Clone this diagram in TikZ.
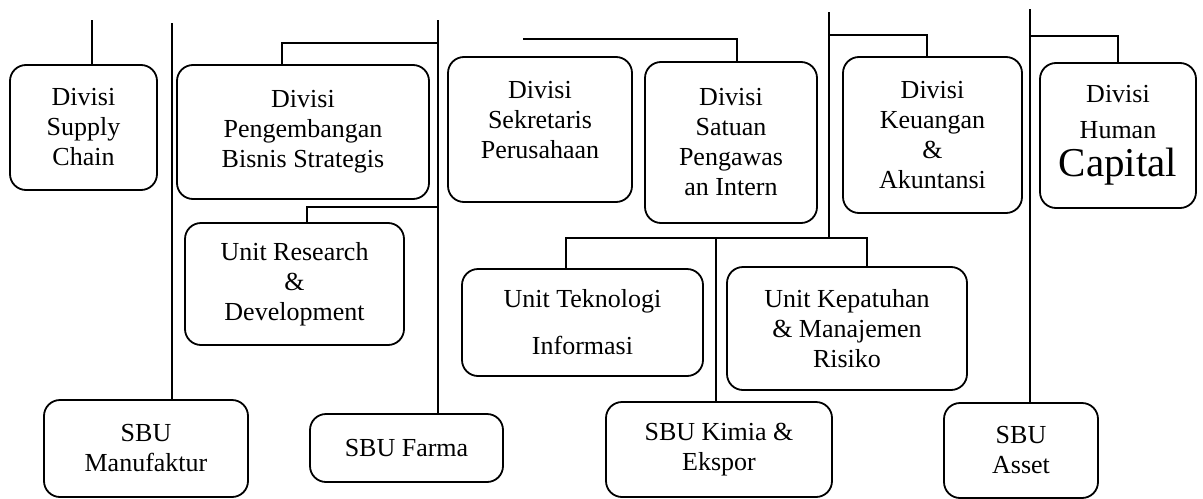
\documentclass[tikz,border=0pt]{standalone}
\usepackage{fontspec}
\setmainfont{Liberation Serif}
\tikzset{
	orgbox/.style 2 args={draw,rounded corners=8pt,line width=0.9pt,align=center,inner sep=0pt,
		font=\fontsize{13}{15}\selectfont,minimum width=#1*0.5pt,minimum height=#2*0.5pt},
	orgline/.style={line width=0.9pt}
}

\begin{document}
\begin{tikzpicture}[x=0.5pt,y=-0.5pt]
				\useasboundingbox (0,0) rectangle (1203,498);
				\node[orgbox={147}{125}] (SC) at (83.5,127.5) {Divisi\\Supply\\Chain};
				\node[orgbox={252}{134}] (PBS) at (303,132) {Divisi\\Pengembangan\\Bisnis Strategis};
				\node[orgbox={219}{122}] (RD) at (294.5,284) {Unit Research\\\&\\Development};
				\node[orgbox={204}{97}] (MF) at (146,448.5) {SBU\\Manufaktur};
				\node[orgbox={193}{68}] (FR) at (406.5,448) {SBU Farma};
				\node[orgbox={184}{145}] (SP) at (540,129.5) {Divisi\\Sekretaris\\Perusahaan\\[-5pt]};
				\node[orgbox={172}{161}] (SPI) at (731,142.5) {Divisi\\Satuan\\Pengawas\\an Intern};
				\node[orgbox={179}{156}] (KA) at (932.5,135) {Divisi\\Keuangan\\\&\\Akuntansi};
				\node[orgbox={156}{145}] (HC) at (1118,135.5) {Divisi\\[3pt]Human\\[4pt]{\fontsize{20.5}{19}\selectfont Capital}};
				\node[orgbox={241}{107}] (TI) at (582.5,322.5) {Unit Teknologi\\[8.5pt]Informasi};
				\node[orgbox={240}{123}] (KMR) at (847,328.5) {Unit Kepatuhan\\\& Manajemen\\Risiko};
				\node[orgbox={226}{95}] (KE) at (719,449.5) {SBU Kimia \&\\Ekspor};
				\node[orgbox={154}{95}] (AS) at (1021,450.5) {SBU\\Asset};
				\coordinate (scT) at (92,20);
				\coordinate (mfT) at (172,23);
				\coordinate (frT) at (438,20);
				\coordinate (pbsJ) at (438,43);
				\coordinate (rdJ) at (438,207);
				\coordinate (spiJ) at (523,39);
				\coordinate (kT) at (829,12);
				\coordinate (kaJ) at (829,35);
				\coordinate (kJ) at (829,238);
				\coordinate (hcT) at (1030,9);
				\coordinate (hcJ) at (1030,36);
				\draw[orgline] (scT) -- (scT |- SC.north);
				\draw[orgline] (mfT) -- (mfT |- MF.north);
				\draw[orgline] (frT) -- (frT |- FR.north);
				\draw[orgline] (pbsJ) -| ([xshift=-10.5pt]PBS.north);
				\draw[orgline] (rdJ) -| ([xshift=6.25pt]RD.north);
				\draw[orgline] (spiJ) -| ([xshift=3pt]SPI.north);
				\draw[orgline] (kT) -- (kJ);
				\draw[orgline] (kaJ) -| ([xshift=-2.75pt]KA.north);
				\draw[orgline] (kJ) -| ([xshift=10pt]KMR.north);
				\draw[orgline] (kJ) -| ([xshift=-8.25pt]TI.north);
				\draw[orgline] ([xshift=-1.5pt]KE.north) |- (kJ);
				\draw[orgline] (hcT) -- (hcT |- AS.north);
				\draw[orgline] (hcJ) -| (HC.north);
			\end{tikzpicture}
\end{document}
